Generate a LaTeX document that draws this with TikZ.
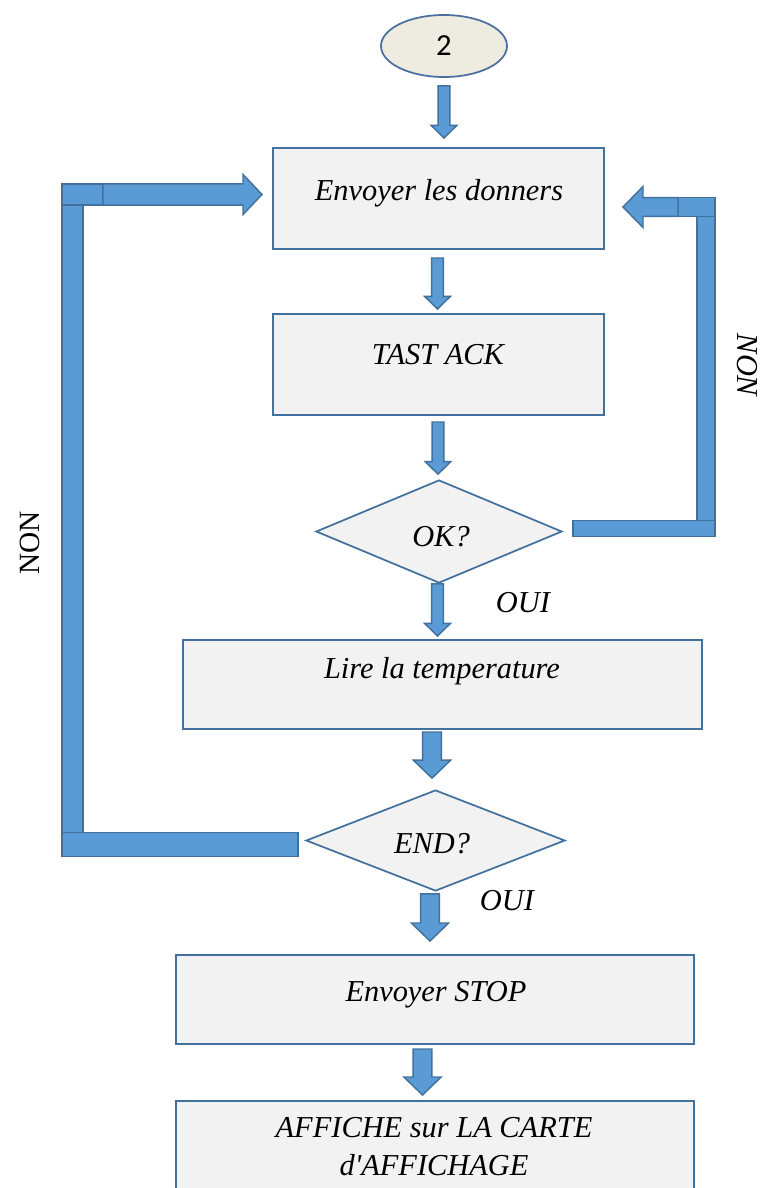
\documentclass[tikz,border=0pt]{standalone}
\usepackage{fontspec}
\setmainfont{Liberation Serif}[Ligatures=TeXOff]
\newfontfamily\calibrifont{Carlito}
\usetikzlibrary{shapes.geometric,calc}
\definecolor{arrowfill}{HTML}{5B9BD5}
\definecolor{arrowline}{HTML}{41719C}
\definecolor{boxfill}{HTML}{F2F2F2}
\definecolor{boxline}{HTML}{41719C}
\definecolor{startfill}{HTML}{EEECE1}
\definecolor{startline}{HTML}{4A6FA0}
\def\px{0.75pt}
\tikzset{
  stepbox/.style={rectangle, draw=boxline, fill=boxfill, line width=1.5pt, inner sep=0pt},
  decision/.style={diamond, draw=boxline, fill=boxfill, line width=1.3pt, inner sep=0pt},
  startnode/.style={ellipse, draw=startline, fill=startfill, line width=1.3pt, inner sep=0pt,
    font=\calibrifont\fontsize{23}{27}\selectfont},
  flowtext/.style={font=\fontsize{22.8}{27}\selectfont\itshape, anchor=base, inner sep=0pt},
  blockfill/.style={fill=arrowfill, draw=arrowline, line width=1.1pt, line join=miter},
  % block arrow pointing down: shaft half width, head half width, head length
  downblock/.style n args={3}{blockfill, to path={let \p1=(\tikztostart), \p2=(\tikztotarget) in
    (\x1-#1,\y1) -- (\x1+#1,\y1) -- (\x1+#1,\y2+#3) -- (\x1+#2,\y2+#3) -- (\x1,\y2)
    -- (\x1-#2,\y2+#3) -- (\x1-#1,\y2+#3) -- cycle}},
  rightblock/.style n args={3}{blockfill, to path={let \p1=(\tikztostart), \p2=(\tikztotarget) in
    (\x1,\y1+#1) -- (\x2-#3,\y1+#1) -- (\x2-#3,\y1+#2) -- (\x2,\y1) -- (\x2-#3,\y1-#2)
    -- (\x2-#3,\y1-#1) -- (\x1,\y1-#1) -- cycle}},
  leftblock/.style n args={3}{blockfill, to path={let \p1=(\tikztostart), \p2=(\tikztotarget) in
    (\x1,\y1+#1) -- (\x2+#3,\y1+#1) -- (\x2+#3,\y1+#2) -- (\x2,\y1) -- (\x2+#3,\y1-#2)
    -- (\x2+#3,\y1-#1) -- (\x1,\y1-#1) -- cycle}},
  smallarrow/.style={downblock={4.35pt}{9.6pt}{9.4pt}},
  largearrow/.style={downblock={7pt}{14pt}{13.5pt}},
}
\begin{document}
\begin{tikzpicture}[x=0.75pt,y=-0.75pt]
\clip (0,0) rectangle (764,1188);
\fill[white] (0,0) rectangle (764,1188);

% flowchart blocks
\node[startnode, minimum width=126*\px, minimum height=62*\px] (start) at (444,46) {2};
\node[stepbox, minimum width=331*\px, minimum height=101*\px] (b1) at (438.5,198.5) {};
\node[stepbox, minimum width=331*\px, minimum height=101*\px] (b2) at (438.5,364.5) {};
\node[decision, minimum width=246*\px, minimum height=103*\px] (d1) at (439,531.5) {};
\node[stepbox, minimum width=519*\px, minimum height=89*\px] (b3) at (442.5,684.5) {};
\node[decision, minimum width=259*\px, minimum height=101*\px] (d2) at (435.5,840.5) {};
\node[stepbox, minimum width=518*\px, minimum height=89*\px] (b4) at (435,999.5) {};
\node[stepbox, minimum width=518*\px, minimum height=120*\px] (b5) at (435,1161) {};

% texts
\node[flowtext] (t1) at (439,200) {Envoyer les donners};
\node[flowtext] (t2) at (438,364) {TAST ACK};
\node[flowtext] (t3) at (441,546) {OK?};
\node[flowtext] (t4) at (442,678) {Lire la temperature};
\node[flowtext] (t5) at (432,853) {END?};
\node[flowtext] (t6) at (436,1001) {Envoyer STOP};
\node[flowtext] (t7) at (434,1137) {AFFICHE sur LA CARTE};
\node[flowtext] (t8) at (434,1175) {d'AFFICHAGE};
\node[flowtext] (oui1) at (523,612) {OUI};
\node[flowtext] (oui2) at (507,910) {OUI};
\node[font=\fontsize{22}{26}\selectfont, rotate=90, inner sep=0pt] (non1) at (30,543) {NON};
\node[font=\fontsize{22.8}{27}\selectfont\itshape, rotate=-90, inner sep=0pt] (non2) at (747,365) {NON};

% straight block arrows
\draw[smallarrow] ($(start.south)+(0,8)$) to ($(b1.north)+(0,-9)$);
\draw[smallarrow] ($(b1.south)+(-1,8)$) to ($(b2.north)+(0,-4)$);
\draw[smallarrow] ($(b2.south)+(-0.5,6)$) to ($(d1.north)+(0,-5)$);
\draw[smallarrow] ($(d1.south)+(-1.5,0)$) to ($(b3.north)+(0,-3)$);
\draw[largearrow] ($(b3.south)+(-10.5,2)$) to ($(d2.north)+(0,-11)$);
\draw[largearrow] ($(d2.south)+(-5.5,2)$) to ($(b4.north)+(0,-13)$);
\draw[largearrow] ($(b4.south)+(-12.5,4)$) to ($(b5.north)+(0,-5)$);

% NON loop from END? back to the first block
\coordinate (lturn) at ($(b1.west)+(-210,-4)$);
\draw[blockfill] ($(lturn)+(0,-10.5)$) rectangle ($(lturn |- d2.west)+(21,-8)$);
\draw[blockfill] ($(lturn |- d2.west)+(0,-8)$) rectangle ($(d2.west)+(-7,16)$);
\draw[blockfill] ($(lturn)+(0,-10.5)$) rectangle ($(lturn)+(41,10.5)$);
\draw[rightblock={7.9pt}{15pt}{14.25pt}] ($(lturn)+(41,0)$) to ($(b1.west)+(-10,-4)$);

% NON loop from OK? back to the first block
\coordinate (rturn) at ($(b1.east)+(110,-1)$);
\draw[blockfill] ($(rturn)+(-18,0)$) rectangle ($(rturn |- d1.east)+(0,-11)$);
\draw[blockfill] ($(rturn |- d1.east)+(0,-11)$) rectangle ($(d1.east)+(10,5)$);
\draw[blockfill] ($(rturn)+(-37,0)$) rectangle ($(rturn)+(0,19)$);
\draw[leftblock={7.1pt}{15.4pt}{15pt}] ($(rturn)+(-37,9.5)$) to ($(b1.east)+(18,8.5)$);
\end{tikzpicture}
\end{document}
